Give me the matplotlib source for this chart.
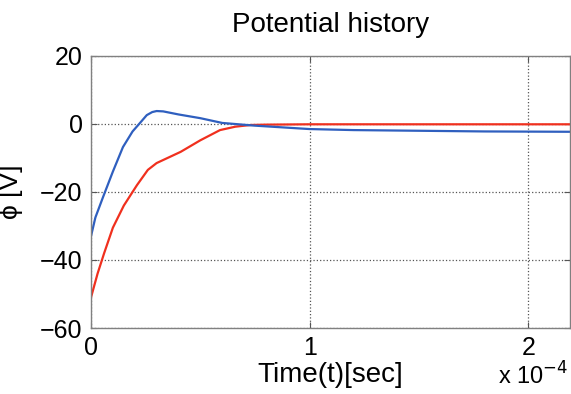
import numpy as np
import matplotlib
matplotlib.use("Agg")
import matplotlib.pyplot as plt
from matplotlib.ticker import FuncFormatter

plt.rcParams['font.family'] = ['Liberation Sans', 'DejaVu Sans']

# time points [sec]
t_blue = np.array([0.0, 0.02, 0.055, 0.10, 0.146, 0.19, 0.22, 0.255, 0.28, 0.30, 0.33,
                   0.40, 0.50, 0.60, 0.75, 0.90, 1.0, 1.2, 1.5, 1.8, 2.2]) * 1e-4
phi_blue = np.array([-33.0, -27.5, -21.5, -14.0, -6.8, -2.2, 0.0, 2.6, 3.5, 3.8, 3.7,
                     2.8, 1.7, 0.3, -0.5, -1.1, -1.5, -1.8, -2.0, -2.2, -2.3])

t_red = np.array([0.0, 0.03, 0.06, 0.10, 0.15, 0.21, 0.26, 0.30, 0.35, 0.41, 0.50,
                  0.59, 0.66, 0.73, 0.80, 1.0, 1.5, 2.2]) * 1e-4
phi_red = np.array([-51.0, -44.0, -38.0, -30.5, -24.0, -18.0, -13.5, -11.5, -10.0, -8.2, -4.8,
                    -1.8, -0.8, -0.3, -0.2, -0.1, -0.1, -0.1])

fig = plt.figure(figsize=(5.71, 3.94), dpi=100)
ax = fig.add_axes([0.1594, 0.1675, 0.8386, 0.6905])

ax.plot(t_red, phi_red, color='#f0301e', lw=1.6)
ax.plot(t_blue, phi_blue, color='#2f5fbf', lw=1.6)

ax.set_xlim(0, 2.19e-4)
ax.set_ylim(-60, 20)
ax.set_xticks([0, 1e-4, 2e-4])
ax.set_yticks([-60, -40, -20, 0, 20])
ax.xaxis.set_major_formatter(FuncFormatter(lambda v, p: '%g' % round(v / 1e-4, 6)))
ax.grid(True, linestyle=':', color='#555555', lw=0.9)
ax.tick_params(direction='in', labelsize=18, top=True, right=True, length=4,
               color='#555555', pad=6)
for s in ax.spines.values():
    s.set_color('#808080')
    s.set_linewidth(1.0)

ax.set_title('Potential history', fontsize=20, pad=17)
ax.set_xlabel('Time(t)[sec]', fontsize=20, labelpad=0)
ax.xaxis.set_label_coords(0.5, -0.125)
ax.set_ylabel('ϕ [V]', fontsize=19, labelpad=0)
ax.yaxis.set_label_coords(-0.142, 0.5)
fig.text(0.872, 0.012, r'x 10$^{-4}$', fontsize=17, ha='left', va='bottom')

fig.savefig('out.png', dpi=100, facecolor='white')
